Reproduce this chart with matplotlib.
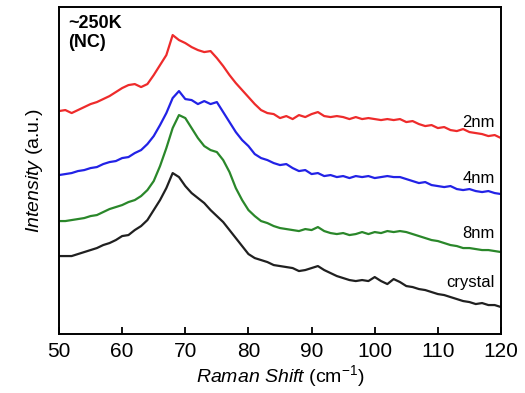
import numpy as np
import matplotlib
matplotlib.use('Agg')
import matplotlib.pyplot as plt

plt.rcParams['font.family'] = 'Liberation Sans'
plt.rcParams['mathtext.fontset'] = 'custom'
plt.rcParams['mathtext.rm'] = 'Liberation Sans'
plt.rcParams['mathtext.it'] = 'Liberation Sans:italic'

# Raman shift axis (cm-1)
shift = np.arange(50, 121)

# intensities (a.u., offset traces)
i_2nm = [223, 224, 221, 224, 227, 230, 232, 235, 238, 242,
         246, 249, 250, 247, 250, 259, 269, 279, 299, 294,
         291, 287, 284, 282, 283, 276, 268, 259, 251, 244,
         237, 230, 224, 221, 220, 216, 218, 215, 219, 217,
         220, 222, 218, 217, 218, 217, 215, 217, 215, 216,
         215, 214, 215, 214, 215, 212, 213, 210, 208, 209,
         206, 207, 204, 203, 205, 202, 201, 200, 198, 199,
         196]
i_4nm = [159, 160, 161, 163, 164, 166, 167, 170, 172, 173,
         176, 177, 181, 184, 190, 198, 209, 221, 236, 243,
         235, 234, 230, 233, 230, 232, 222, 212, 202, 194,
         188, 180, 176, 174, 171, 169, 170, 166, 163, 164,
         160, 161, 158, 159, 157, 158, 156, 158, 157, 158,
         156, 157, 158, 157, 157, 155, 153, 151, 152, 149,
         148, 147, 148, 145, 144, 145, 143, 142, 143, 141,
         140]
i_8nm = [113, 113, 114, 115, 116, 118, 119, 122, 125, 127,
         129, 132, 134, 138, 144, 153, 168, 186, 206, 219,
         216, 206, 196, 188, 184, 182, 174, 162, 146, 134,
         124, 118, 113, 111, 108, 106, 105, 104, 103, 105,
         104, 107, 103, 101, 100, 101, 99, 100, 102, 100,
         102, 101, 103, 102, 103, 102, 100, 98, 96, 94,
         93, 91, 89, 88, 86, 86, 85, 84, 84, 83,
         82]
i_crystal = [78, 78, 78, 80, 82, 84, 86, 89, 91, 94,
             98, 99, 104, 108, 114, 124, 134, 146, 161, 157,
             148, 141, 136, 131, 124, 118, 112, 104, 96, 88,
             80, 76, 74, 72, 69, 68, 67, 66, 63, 64,
             66, 68, 64, 61, 58, 56, 54, 53, 54, 53,
             57, 53, 50, 55, 52, 48, 47, 45, 44, 42,
             40, 39, 37, 35, 33, 32, 30, 31, 29, 29,
             27]

names = ['2nm', '4nm', '8nm', 'crystal']
colors = ['#ee2b2b', '#2222e6', '#2a872a', '#202020']
label_y = [212, 156, 101, 52]

fig = plt.figure(figsize=(5.25, 3.93), dpi=100)
ax = fig.add_axes([0.1124, 0.150, 0.8419, 0.832])

for y, c in zip([i_2nm, i_4nm, i_8nm, i_crystal], colors):
    ax.plot(shift, y, color=c, lw=1.6)

for n, ly in zip(names, label_y):
    ax.text(119, ly, n, ha='right', va='center', fontsize=12)

ax.text(0.02, 0.975, '~250K\n(NC)', transform=ax.transAxes, ha='left', va='top',
        fontsize=13, fontweight='bold', linespacing=1.1)

ax.set_xlim(50, 120)
ax.set_ylim(0, 327)
ax.set_xticks(np.arange(50, 121, 10))
ax.set_yticks([])
ax.tick_params(axis='x', direction='in', length=5, width=1.3, labelsize=15, pad=6)
for s in ax.spines.values():
    s.set_linewidth(1.4)

ax.set_xlabel(r'$\it{Raman\ Shift}$ (cm$^{-1}$)', fontsize=14, labelpad=1)
ax.set_ylabel(r'$\it{Intensity}$ (a.u.)', fontsize=14, labelpad=10)

fig.savefig('out.png', dpi=100)
